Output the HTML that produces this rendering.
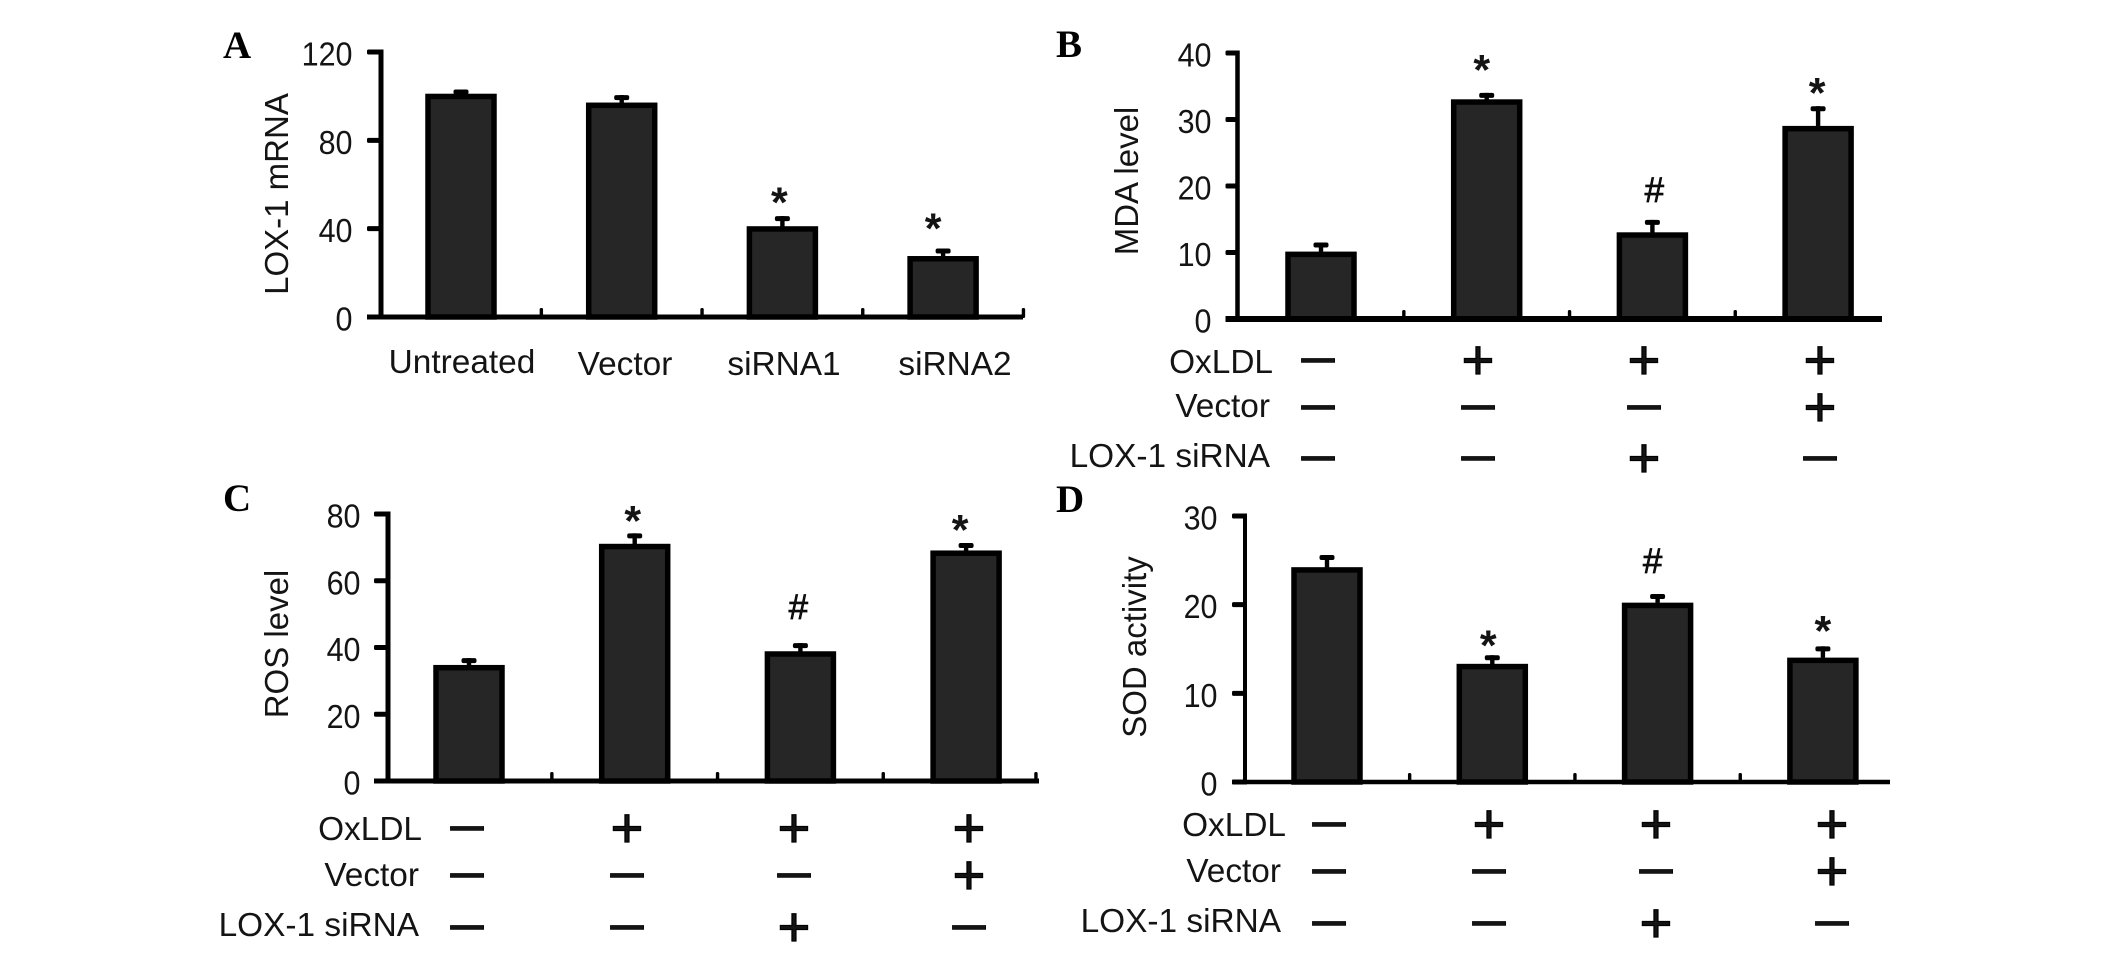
<!DOCTYPE html>
<html lang="en">
<head>
<meta charset="utf-8">
<title>LOX-1 siRNA bar chart panels</title>
<style>
html,body{margin:0;padding:0;background:#fff;width:2126px;height:968px;overflow:hidden}
svg{display:block}
text{font-family:"Liberation Sans",Arial,sans-serif;fill:#141414}
.panel-letter{font-family:"Liberation Serif",serif;font-weight:bold;font-size:39px;fill:#000}
</style>
</head>
<body>
<svg id="figure" width="2126" height="968" viewBox="0 0 2126 968" xmlns="http://www.w3.org/2000/svg"></svg>
<script>
// ---- Panel A data ----
const categoriesA = ['Untreated', 'Vector', 'siRNA1', 'siRNA2'];
const valuesA = [101, 97, 41, 27.5];
const errorsA = [2, 3.5, 4.7, 3.5];
const ticksA = [0, 40, 80, 120];
const marksA = ['', '', '*', '*'];
const markLevelsA = [0, 0, 55.5, 43.7];

// ---- Panel B data ----
const valuesB = [10.1, 33, 13, 29];
const errorsB = [1.4, 1, 1.9, 3];
const ticksB = [0, 10, 20, 30, 40];
const marksB = ['', '*', '#', '*'];
const markLevelsB = [0, 38.6, 19.2, 35.2];

// ---- Panel C data ----
const valuesC = [34.7, 71, 38.8, 69];
const errorsC = [2.1, 3.2, 2.5, 2.3];
const ticksC = [0, 20, 40, 60, 80];
const marksC = ['', '*', '#', '*'];
const markLevelsC = [0, 80.2, 51.8, 77.5];

// ---- Panel D data ----
const valuesD = [24.2, 13.3, 20.2, 14];
const errorsD = [1.4, 1, 1, 1.3];
const ticksD = [0, 10, 20, 30];
const marksD = ['', '*', '#', '*'];
const markLevelsD = [0, 16.3, 24.8, 17.9];

// ---- Treatment table (shared by panels B, C, D) ----
const treatmentRows = ['OxLDL', 'Vector', 'LOX-1 siRNA'];
const oxldlRow = ['-', '+', '+', '+'];
const vectorRow = ['-', '-', '-', '+'];
const sirnaRow = ['-', '-', '+', '-'];

const svg = document.getElementById('figure');
const NS = 'http://www.w3.org/2000/svg';

function mk(parent, tag, attrs, txt) {
  const el = document.createElementNS(NS, tag);
  for (const k in attrs) el.setAttribute(k, attrs[k]);
  if (txt !== undefined) el.textContent = txt;
  parent.appendChild(el);
  return el;
}

function drawPanel(p) {
  const g = mk(svg, 'g', {});
  
  

  const yScale = v => p.base - v * (p.base - p.top) / p.max;
  const xScale = i => p.c0 + i * p.step;

  // panel letter
  const letter = mk(g, 'text', {x: p.letterX, y: p.letterY, class: 'panel-letter'}, p.id);
  
  

  // y axis title
  const yTitle = mk(g, 'text', {
    x: 0, y: 0, 'font-size': 33, 'text-anchor': 'middle', fill: '#222',
    transform: 'translate(' + p.titleX + ',' + p.titleY + ') rotate(-90)'
  }, p.yTitle);
  
  

  // bars
  p.values.forEach((v, i) => {
    const cx = xScale(i);
    const stem = mk(g, 'rect', {x: cx - 2.2, y: yScale(v + p.errors[i]), width: 4.4, height: yScale(v) - yScale(v + p.errors[i]), fill: '#000'});
    
    
    const cap = mk(g, 'rect', {x: cx - 7.5, y: yScale(v + p.errors[i]), width: 15, height: 5, rx: 2, fill: '#000'});
    
    
    const bar = mk(g, 'rect', {x: cx - 33, y: yScale(v) + 2.5, width: 66, height: p.base - yScale(v) - 2.5, fill: '#262626', stroke: '#000', 'stroke-width': 5.5});
    
    
  });

  // x-axis separators
  p.separators.forEach(i => {
    const sx = xScale(i) + p.step / 2 + (p.sepDx ? p.sepDx[i] : 0);
    const sep = mk(g, 'rect', {x: sx - 1.7, y: p.base - 9, width: 3.4, height: 10, rx: 1.5, fill: '#000'});
    
    
  });

  // axes
  const yAxis = mk(g, 'rect', {x: p.axisX - p.yThick / 2, y: p.top - 2.5, width: p.yThick, height: p.base - p.top + 5, fill: '#000'});
  
  
  const xAxis = mk(g, 'rect', {x: p.axisX - p.tickLen, y: p.base - p.xThick / 2, width: p.right - p.axisX + p.tickLen, height: p.xThick, fill: '#000'});
  
  

  // y ticks + labels
  p.ticks.forEach(t => {
    const ty = yScale(t);
    const tick = mk(g, 'rect', {x: p.axisX - p.tickLen, y: ty - 2.5, width: p.tickLen, height: 5, rx: 1.5, fill: '#000'});
    
    
    const lab = mk(g, 'text', {
      x: 0, y: 0, 'font-size': 30.5, 'text-anchor': 'end',
      transform: 'translate(' + (p.labelRight + 1.5) + ',' + (ty + 13.5) + ') scale(1,1.08)'
    }, String(t));
    
    
  });

  // significance marks
  p.marks.forEach((m, i) => {
    if (!m) return;
    const my = yScale(p.markLevels[i]);
    const isStar = m === '*';
    const size = isStar ? 43 : 35;
    const off = isStar ? 0.52 * size : 0.31 * size;
    const mark = mk(g, 'text', {
      x: xScale(i) + p.markDx[i], y: my + off, 'font-size': size, 'text-anchor': 'middle',
      'font-weight': isStar ? 'bold' : 'normal', stroke: isStar ? 'none' : '#000', 'stroke-width': isStar ? 0 : 0.7, fill: '#000'
    }, m);
    
    
  });
}

function drawTreatments(p) {
  const g = mk(svg, 'g', {});
  
  
  const rows = [oxldlRow, vectorRow, sirnaRow];
  treatmentRows.forEach((name, r) => {
    const lab = mk(g, 'text', {x: p.rowRight[r], y: p.rowBase[r], 'font-size': 33.4, 'text-anchor': 'end'}, name);
    
    
    rows[r].forEach((s, c) => {
      const plus = s === '+';
      const sym = mk(g, 'text', {
        x: p.cols[c], y: p.rowMid[r] + (plus ? 19 : 16), 'font-size': plus ? 56 : 60,
        stroke: '#000', 'stroke-width': plus ? 1.2 : 0.6, 'text-anchor': 'middle', fill: '#000'
      }, plus ? '+' : '\u2013');
      
      
    });
  });
}

drawPanel({id: 'A', yTitle: 'LOX-1 mRNA', values: valuesA, errors: errorsA, ticks: ticksA, marks: marksA, markLevels: markLevelsA,
  markDx: [0, 0, -3, -10], max: 120, top: 52, base: 317, axisX: 381, right: 1023, c0: 461, step: 160.7,
  tickLen: 14, yThick: 5, xThick: 5, labelRight: 351, letterX: 223, letterY: 58, titleX: 288, titleY: 194, separators: [0, 1, 2, 3]});
drawPanel({id: 'B', yTitle: 'MDA level', values: valuesB, errors: errorsB, ticks: ticksB, marks: marksB, markLevels: markLevelsB,
  markDx: [0, -5, 2, -1], max: 40, top: 53, base: 319, axisX: 1237.5, right: 1882, c0: 1321, step: 165.7,
  tickLen: 12, yThick: 4.5, xThick: 6, labelRight: 1210, letterX: 1056, letterY: 57, titleX: 1138, titleY: 181, separators: [0, 1, 2]});
drawPanel({id: 'C', yTitle: 'ROS level', values: valuesC, errors: errorsC, ticks: ticksC, marks: marksC, markLevels: markLevelsC,
  markDx: [0, -2, -2, -6], max: 80, top: 514, base: 781, axisX: 388, right: 1039, c0: 469, step: 165.7,
  tickLen: 14, yThick: 5, xThick: 5, labelRight: 359, letterX: 223, letterY: 511, titleX: 288, titleY: 644, separators: [0, 1, 2, 3], sepDx: [0, 0, 0, -13]});
drawPanel({id: 'D', yTitle: 'SOD activity', values: valuesD, errors: errorsD, ticks: ticksD, marks: marksD, markLevels: markLevelsD,
  markDx: [0, -4, -5, 0], max: 30, top: 516, base: 782, axisX: 1245, right: 1890, c0: 1327, step: 165.3,
  tickLen: 13, yThick: 4, xThick: 4.5, labelRight: 1216, letterX: 1056, letterY: 512, titleX: 1146, titleY: 647, separators: [0, 1, 2]});

// Panel A category labels
const catCenters = [462, 625, 784, 955];
categoriesA.forEach((c, i) => {
  const t = mk(svg, 'text', {x: catCenters[i], y: i === 0 ? 373 : 375, 'font-size': 33.4, 'text-anchor': 'middle'}, c);
  
  
});

drawTreatments({id: 'B', rowRight: [1273, 1270, 1270], rowBase: [373, 417, 467], rowMid: [360, 407, 458], cols: [1318, 1478, 1644, 1820]});
drawTreatments({id: 'C', rowRight: [422, 419, 419], rowBase: [840, 886, 936], rowMid: [828, 875, 927], cols: [467, 627, 794, 969]});
drawTreatments({id: 'D', rowRight: [1286, 1281, 1281], rowBase: [836, 882, 932], rowMid: [824, 871, 923], cols: [1329, 1489, 1656, 1832]});
</script>
</body>
</html>
